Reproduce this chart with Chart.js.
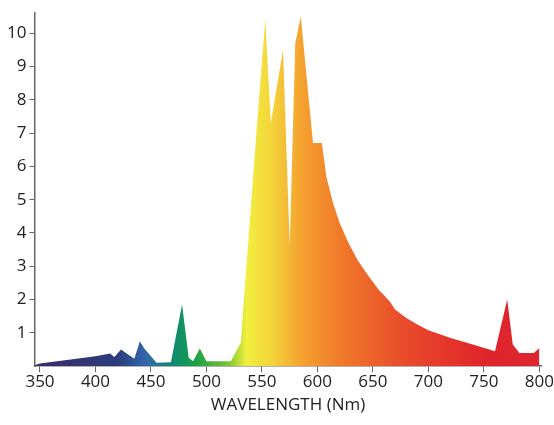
<!DOCTYPE html>
<html>
<head>
<meta charset="utf-8">
<script src="https://cdn.jsdelivr.net/npm/chart.js@4"></script>
<style>
  html, body { margin: 0; padding: 0; background: #fff; }
  #wrap { width: 554px; height: 425px; }
</style>
</head>
<body>
<div id="wrap"><canvas id="chart"></canvas></div>
<script>
// spectrum: wavelength (nm) and relative intensity
const wavelengths = [345, 350, 400, 413, 417, 423, 435, 440, 444, 455, 468, 478, 484, 488, 494, 500, 522, 531, 536, 545, 553, 558, 569, 575, 580, 585, 596, 604, 608, 614, 620, 628, 636, 645, 655, 665, 670, 680, 690, 700, 720, 740, 760, 771, 776, 782, 795, 800];
const intensity   = [0.03, 0.08, 0.3, 0.38, 0.28, 0.5, 0.22, 0.75, 0.53, 0.1, 0.12, 1.85, 0.25, 0.15, 0.53, 0.15, 0.15, 0.72, 3.0, 7.0, 10.4, 7.3, 9.5, 3.6, 9.7, 10.5, 6.7, 6.7, 5.7, 4.9, 4.3, 3.7, 3.2, 2.75, 2.3, 1.95, 1.7, 1.45, 1.25, 1.08, 0.85, 0.65, 0.45, 2.0, 0.65, 0.4, 0.4, 0.55];
const xTicks = [350, 400, 450, 500, 550, 600, 650, 700, 750, 800];
const yTicks = [1, 2, 3, 4, 5, 6, 7, 8, 9, 10];

// colour stops of the spectrum fill
const stopNm  = [345, 420, 445, 470, 490, 520, 536, 560, 585, 620, 680, 750, 800];
const stopCol = ["#3b2a6b", "#2b3d7c", "#3366aa", "#0e8a70", "#19a046", "#7cc635", "#f2f03f", "#f3d23a", "#f5a330", "#f07a2a", "#e84a2b", "#e0252a", "#dc2632"];

const X_MIN = 345, X_MAX = 802;

function spectrumFill(ctx) {
  const chart = ctx.chart;
  const area = chart.chartArea;
  if (!area) return "#f5a330";
  const xs = chart.scales.x;
  const g = chart.ctx.createLinearGradient(area.left, 0, area.right, 0);
  stopNm.forEach((nm, i) => {
    const t = (xs.getPixelForValue(nm) - area.left) / (area.right - area.left);
    g.addColorStop(Math.min(1, Math.max(0, t)), stopCol[i]);
  });
  return g;
}

const tickFont = { family: "'Open Sans', 'Noto Sans', sans-serif", size: 17 };

new Chart(document.getElementById("chart"), {
  type: "line",
  data: {
    datasets: [{
      data: wavelengths.map((w, i) => ({ x: w, y: intensity[i] })),
      fill: "origin",
      backgroundColor: spectrumFill,
      borderWidth: 0,
      pointRadius: 0,
      tension: 0
    }]
  },
  options: {
    responsive: true,
    maintainAspectRatio: false,
    animation: false,
    layout: { padding: { top: 12, right: 4, left: 4, bottom: 6 } },
    plugins: { legend: { display: false }, tooltip: { enabled: false } },
    scales: {
      x: {
        type: "linear", min: X_MIN, max: X_MAX,
        afterBuildTicks: s => { s.ticks = xTicks.map(v => ({ value: v })); },
        ticks: { color: "#222", font: tickFont, padding: 0, maxRotation: 0 },
        grid: { drawOnChartArea: false, tickLength: 6, color: "#666" },
        border: { color: "#666", width: 1.5 },
        title: { display: true, text: "WAVELENGTH (Nm)", color: "#222", font: { family: "'Open Sans', 'Noto Sans', sans-serif", size: 17 }, padding: { top: 2 } }
      },
      y: {
        min: 0, max: 10.6,
        afterBuildTicks: s => { s.ticks = yTicks.map(v => ({ value: v })); },
        ticks: { color: "#222", font: tickFont, padding: 3 },
        grid: { drawOnChartArea: false, tickLength: 5, color: "#666" },
        border: { color: "#666", width: 1.5 }
      }
    }
  }
});
</script>
</body>
</html>
